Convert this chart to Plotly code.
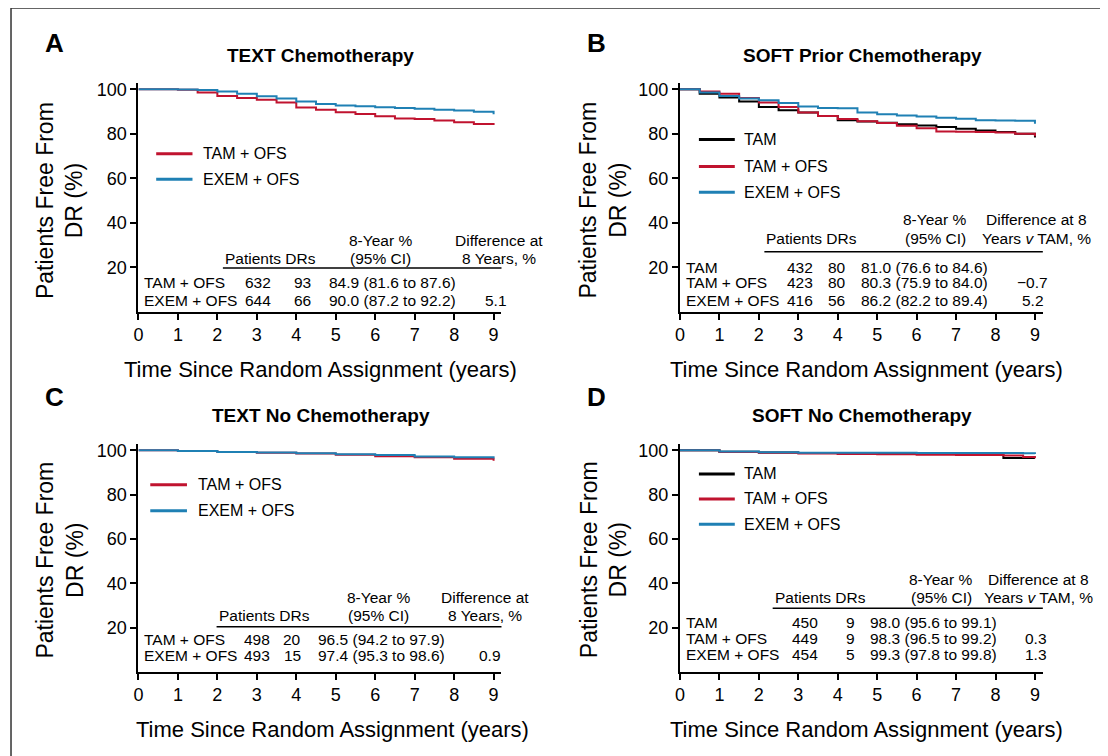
import plotly.graph_objects as go

RED = "#c0132f"
BLUE = "#1f80b4"
BLACK = "#000000"

# ---- curve data (years, % free from DR) ----
a_t = [0, 1, 1.5, 2, 2.5, 3, 3.5, 4, 4.5, 5, 5.5, 6, 6.5, 7, 7.5, 8, 8.5, 9]
a_tamofs = [100, 99.8, 98.5, 97, 96, 95.3, 94, 91.8, 90.8, 89.7, 88.9, 87.8, 86.8, 86.6, 85.9, 85.1, 84.4, 83.9]
a_exemofs = [100, 99.9, 99.6, 99.0, 98.0, 96.8, 95.8, 94.5, 93.4, 92.7, 92.3, 91.9, 91.6, 91.2, 90.8, 90.4, 89.9, 88.8]

b_t = [0, 0.5, 1, 1.5, 2, 2.5, 3, 3.5, 4, 4.5, 5, 5.5, 6, 6.5, 7, 7.5, 8, 8.5, 9]
b_tam = [100, 98, 96.3, 94.5, 92, 90.5, 89.5, 88, 86, 85.5, 84.9, 84.2, 83.7, 83, 82.2, 81.5, 80.8, 80, 78.3]
b_tamofs = [100, 99, 98, 96, 94, 92, 89.5, 88, 86.6, 85.6, 84.8, 83.6, 82.5, 81, 80.9, 80.8, 80.5, 80, 78.9]
b_exemofs = [100, 98.5, 97, 95.8, 95, 93.8, 92.2, 91.6, 91.4, 89.5, 88.8, 88.2, 87.7, 87.2, 86.7, 86, 85.9, 85.8, 84.5]

c_t = [0, 1, 2, 3, 4, 5, 6, 7, 8, 9]
c_tamofs = [100, 99.6, 99.2, 98.9, 98.5, 98.0, 97.3, 96.8, 96.2, 95.3]
c_exemofs = [100, 99.7, 99.2, 99.0, 98.6, 98.2, 97.8, 97.2, 96.8, 96.3]

d_t = [0, 1, 2, 3, 4, 5, 6, 7, 8, 8.2, 8.7, 9]
d_tam = [100, 99.3, 99.0, 98.7, 98.5, 98.4, 98.3, 98.2, 97.8, 96.5, 96.5, 96.5]
d_tamofs = [100, 99.2, 98.9, 98.5, 98.3, 98.2, 98.0, 97.9, 97.8, 97.6, 97.0, 96.4]
d_exemofs = [100, 99.4, 99.1, 98.9, 98.9, 98.9, 98.8, 98.8, 98.8, 98.8, 98.6, 98.3]

# ---- table data ----
a_groups = ["TAM + OFS", "EXEM + OFS"]
a_patients = ["632", "644"]
a_drs = ["93", "66"]
a_est = ["84.9 (81.6 to 87.6)", "90.0 (87.2 to 92.2)"]
a_diff = ["", "5.1"]

b_groups = ["TAM", "TAM + OFS", "EXEM + OFS"]
b_patients = ["432", "423", "416"]
b_drs = ["80", "80", "56"]
b_est = ["81.0 (76.6 to 84.6)", "80.3 (75.9 to 84.0)", "86.2 (82.2 to 89.4)"]
b_diff = ["", "\u22120.7", "5.2"]

c_groups = ["TAM + OFS", "EXEM + OFS"]
c_patients = ["498", "493"]
c_drs = ["20", "15"]
c_est = ["96.5 (94.2 to 97.9)", "97.4 (95.3 to 98.6)"]
c_diff = ["", "0.9"]

d_groups = ["TAM", "TAM + OFS", "EXEM + OFS"]
d_patients = ["450", "449", "454"]
d_drs = ["9", "9", "5"]
d_est = ["98.0 (95.6 to 99.1)", "98.3 (96.5 to 99.2)", "99.3 (97.8 to 99.8)"]
d_diff = ["", "0.3", "1.3"]

titles = ["TEXT Chemotherapy", "SOFT Prior Chemotherapy", "TEXT No Chemotherapy", "SOFT No Chemotherapy"]
letters = ["A", "B", "C", "D"]
x_ticks = list(range(10))
y_ticks = [20, 40, 60, 80, 100]

FONT = "Liberation Sans"
W, H = 1108, 756
OX, OY = 10, 10  # page offset of the plot inside the browser


def px(x):
    return (x - OX) / W


def py(y):
    return 1 - (y - OY) / H


fig = go.Figure()

panels = [
    dict(ax="", t=a_t, series=[("TAM + OFS", a_tamofs, RED), ("EXEM + OFS", a_exemofs, BLUE)],
         xd=[px(136), px(500.7)], yd=[py(312), py(81.8)],
         leg_y=[71, 59.5], leg_x=[0.45, 1.37, 1.58],
         tab=(a_groups, a_patients, a_drs, a_est, a_diff), rows=[13, 5],
         cols=dict(pat=(3.03, "center"), dr=(4.16, "center"), est=4.78, diff=(9.05, "center")),
         hdr=dict(y1=32, y2=24, pat=2.14, est=(6.14, "center"), dif=(9.13, "center"),
                  dtxt=("Difference at", "8 Years, %")),
         line=(19.7, 2.14, 10.34),
         px=dict(letter=(52, 42), title=(319, 55), ytitle=(57, 200), xtitle=(319, 370))),
    dict(ax="2", t=b_t, series=[("TAM", b_tam, BLACK), ("TAM + OFS", b_tamofs, RED), ("EXEM + OFS", b_exemofs, BLUE)],
         xd=[px(680), px(1044.5)], yd=[py(312), py(81.8)],
         leg_y=[77.4, 65.3, 53.7], leg_x=[0.48, 1.39, 1.58],
         tab=(b_groups, b_patients, b_drs, b_est, b_diff), rows=[20, 13, 5],
         cols=dict(pat=(3.05, "center"), dr=(3.97, "center"), est=4.55, diff=(8.95, "center")),
         hdr=dict(y1=41.6, y2=33, pat=2.14, est=(7.3, "right"), dif=(9.05, "center"),
                  dtxt=("Difference at 8", "Years <i>v</i> TAM, %")),
         line=(27, 2.14, 10.6),
         px=dict(letter=(596, 42), title=(863, 55), ytitle=(603, 200), xtitle=(867, 370))),
    dict(ax="3", t=c_t, series=[("TAM + OFS", c_tamofs, RED), ("EXEM + OFS", c_exemofs, BLUE)],
         xd=[px(136), px(500.7)], yd=[py(673.5), py(444.3)],
         leg_y=[84.4, 72.7], leg_x=[0.3, 1.23, 1.45],
         tab=(c_groups, c_patients, c_drs, c_est, c_diff), rows=[14.7, 7.4],
         cols=dict(pat=(3.0, "center"), dr=(3.9, "center"), est=4.5, diff=(8.9, "center")),
         hdr=dict(y1=33.5, y2=25.5, pat=1.98, est=(6.08, "center"), dif=(8.78, "center"),
                  dtxt=("Difference at", "8 Years, %")),
         line=(20.4, 1.98, 10.0),
         px=dict(letter=(52, 398), title=(319, 416), ytitle=(57, 561), xtitle=(331, 731))),
    dict(ax="4", t=d_t, series=[("TAM", d_tam, BLACK), ("TAM + OFS", d_tamofs, RED), ("EXEM + OFS", d_exemofs, BLUE)],
         xd=[px(680), px(1044.5)], yd=[py(673.5), py(444.3)],
         leg_y=[89.3, 78, 66.6], leg_x=[0.48, 1.39, 1.58],
         tab=(d_groups, d_patients, d_drs, d_est, d_diff), rows=[22.2, 15.2, 7.8],
         cols=dict(pat=(3.17, "center"), dr=(4.5, "right"), est=4.77, diff=(9.03, "center")),
         hdr=dict(y1=41.6, y2=33.5, pat=2.35, est=(7.45, "right"), dif=(9.1, "center"),
                  dtxt=("Difference at 8", "Years <i>v</i> TAM, %")),
         line=(28.7, 2.35, 10.65),
         px=dict(letter=(596, 398), title=(863, 416), ytitle=(603, 561), xtitle=(867, 731))),
]

ann = []
shapes = []
TF = dict(family=FONT, size=15.5, color="black")
for i, p in enumerate(panels):
    ax = p["ax"]
    xr, yr = "x" + ax, "y" + ax
    for name, vals, col in p["series"]:
        fig.add_trace(go.Scatter(x=p["t"], y=vals, mode="lines", line=dict(color=col, width=2, shape="hv"),
                                 xaxis=xr, yaxis=yr, showlegend=False, hoverinfo="skip"))
    for (name, vals, col), ly in zip(p["series"], p["leg_y"]):
        shapes.append(dict(type="line", xref=xr, yref=yr, x0=p["leg_x"][0], x1=p["leg_x"][1], y0=ly, y1=ly,
                           line=dict(color=col, width=3)))
        ann.append(dict(xref=xr, yref=yr, x=p["leg_x"][2], y=ly, text=name, showarrow=False, xanchor="left",
                        font=dict(family=FONT, size=16, color="black")))
    groups, pats, drs, ests, diffs = p["tab"]
    c = p["cols"]
    for g, pa, dr, es, df, ry in zip(groups, pats, drs, ests, diffs, p["rows"]):
        ann.append(dict(xref=xr, yref=yr, x=0.1, y=ry, text=g, showarrow=False, xanchor="left", font=TF))
        ann.append(dict(xref=xr, yref=yr, x=c["pat"][0], y=ry, text=pa, showarrow=False, xanchor=c["pat"][1], font=TF))
        ann.append(dict(xref=xr, yref=yr, x=c["dr"][0], y=ry, text=dr, showarrow=False, xanchor=c["dr"][1], font=TF))
        ann.append(dict(xref=xr, yref=yr, x=c["est"], y=ry, text=es, showarrow=False, xanchor="left", font=TF))
        if df:
            ann.append(dict(xref=xr, yref=yr, x=c["diff"][0], y=ry, text=df, showarrow=False, xanchor=c["diff"][1], font=TF))
    h = p["hdr"]
    ann.append(dict(xref=xr, yref=yr, x=h["pat"], y=h["y2"], text="Patients DRs", showarrow=False, xanchor="left", font=TF))
    ann.append(dict(xref=xr, yref=yr, x=h["est"][0], y=h["y1"], text="8-Year %", showarrow=False, xanchor=h["est"][1], font=TF))
    ann.append(dict(xref=xr, yref=yr, x=h["est"][0], y=h["y2"], text="(95% CI)", showarrow=False, xanchor=h["est"][1], font=TF))
    ann.append(dict(xref=xr, yref=yr, x=h["dif"][0], y=h["y1"], text=h["dtxt"][0], showarrow=False, xanchor=h["dif"][1], font=TF))
    ann.append(dict(xref=xr, yref=yr, x=h["dif"][0], y=h["y2"], text=h["dtxt"][1], showarrow=False, xanchor=h["dif"][1], font=TF))
    ly, lx0, lx1 = p["line"]
    shapes.append(dict(type="line", xref=xr, yref=yr, x0=lx0, x1=lx1, y0=ly, y1=ly, line=dict(color="black", width=1.5)))
    q = p["px"]
    common = dict(xref="paper", yref="paper", showarrow=False, xanchor="center", yanchor="middle")
    ann.append(dict(common, x=px(q["letter"][0]), y=py(q["letter"][1]), text="<b>%s</b>" % letters[i],
                    font=dict(family=FONT, size=26, color="black")))
    ann.append(dict(common, x=px(q["title"][0]), y=py(q["title"][1]), text="<b>%s</b>" % titles[i],
                    font=dict(family=FONT, size=19, color="black")))
    ann.append(dict(common, x=px(q["ytitle"][0]), y=py(q["ytitle"][1]),
                    text="Patients Free From<br>DR (%)", textangle=-90,
                    font=dict(family=FONT, size=23, color="black")))
    ann.append(dict(common, x=px(q["xtitle"][0]), y=py(q["xtitle"][1]),
                    text="Time Since Random Assignment (years)",
                    font=dict(family=FONT, size=22, color="black")))

    axcommon = dict(showgrid=False, zeroline=False, showline=True, linecolor="black", linewidth=2,
                    ticks="outside", tickcolor="black", tickwidth=1.5, ticklen=6,
                    tickfont=dict(family=FONT, size=18, color="black"), fixedrange=True)
    fig.layout["xaxis" + ax] = dict(axcommon, domain=p["xd"], range=[0, 9.2], tickvals=x_ticks,
                                    anchor="y" + ax)
    fig.layout["yaxis" + ax] = dict(axcommon, domain=p["yd"], range=[0, 103], tickvals=y_ticks,
                                    anchor="x" + ax)

shapes.append(dict(type="rect", xref="paper", yref="paper", x0=px(8), x1=px(1105), y0=-0.05, y1=py(7),
                   line=dict(color="#333", width=1.5)))

fig.update_layout(width=W, height=H, margin=dict(l=0, r=0, t=0, b=0), plot_bgcolor="white",
                  paper_bgcolor="white", annotations=ann, shapes=shapes, showlegend=False)
fig.write_html("out.html")
